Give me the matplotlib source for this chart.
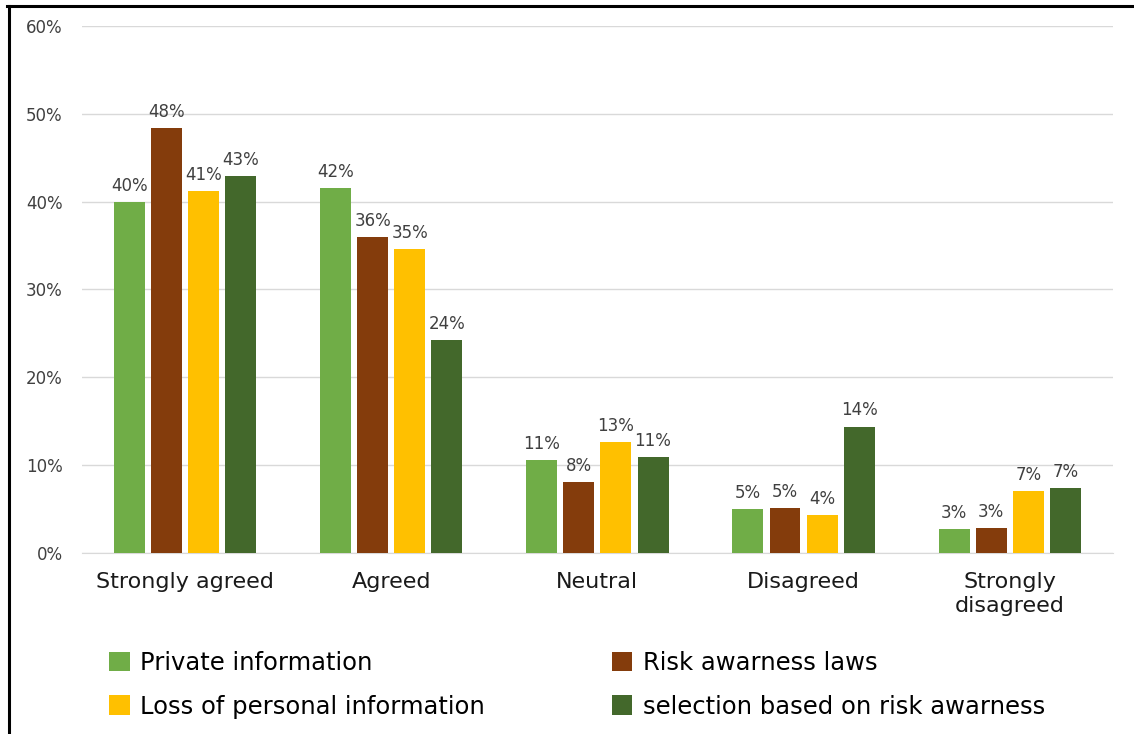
import matplotlib.pyplot as plt
import numpy as np
from matplotlib.lines import Line2D

categories = ["Strongly agreed", "Agreed", "Neutral", "Disagreed", "Strongly\ndisagreed"]
series_names = [
    "Private information",
    "Risk awarness laws",
    "Loss of personal information",
    "selection based on risk awarness",
]
private_info = [40.0, 41.6, 10.6, 5.0, 2.7]
risk_laws = [48.4, 36.0, 8.1, 5.1, 2.8]
loss_personal = [41.2, 34.6, 12.6, 4.3, 7.1]
selection_risk = [42.9, 24.3, 10.9, 14.4, 7.4]

colors = ["#70AD47", "#843C0C", "#FFC000", "#43682B"]
text_color = "#404040"

plt.rcParams["font.family"] = ["DejaVu Sans"]

fig = plt.figure(figsize=(11.34, 7.34), dpi=100)
ax = fig.add_axes([0.0723, 0.2466, 0.909, 0.718])

x = np.arange(len(categories))
width = 0.15
step = 0.18
offsets = (np.arange(4) - 1.5) * step

handles = []
for i, (name, vals) in enumerate(zip(series_names, [private_info, risk_laws, loss_personal, selection_risk])):
    vals = np.array(vals) / 100
    bars = ax.bar(x + offsets[i], vals, width, color=colors[i], label=name, zorder=3)
    handles.append(bars)
    for xb, v in zip(x + offsets[i], vals):
        ax.text(xb, v + 0.008, f"{v * 100:.0f}%", ha="center", va="bottom",
                fontsize=12, color=text_color)

ax.set_xlim(-0.5, len(categories) - 0.5)
ax.set_ylim(0, 0.6)
ax.set_yticks(np.arange(0, 0.61, 0.1))
ax.set_yticklabels([f"{t}%" for t in range(0, 61, 10)], fontsize=12, color=text_color)
ax.set_xticks(x)
ax.set_xticklabels(categories, fontsize=16, color="#1a1a1a", linespacing=1.25)
ax.tick_params(axis="both", length=0)
ax.tick_params(axis="x", pad=14)
ax.tick_params(axis="y", pad=14)
ax.grid(axis="y", color="#d9d9d9", linewidth=1, zorder=0)
for side in ["top", "right", "left"]:
    ax.spines[side].set_visible(False)
ax.spines["bottom"].set_color("#d9d9d9")

# two-column legend, filled column by column
order = [0, 2, 1, 3]
fig.legend([handles[i] for i in order], [series_names[i] for i in order],
           loc="upper left", bbox_to_anchor=(0.096, 0.113), ncol=2, frameon=False,
           fontsize=17.5, handlelength=0.85, handleheight=0.85, handletextpad=0.45,
           labelspacing=0.8, columnspacing=5.2, borderpad=0, borderaxespad=0)

# outer frame (left and top edges)
fig.add_artist(Line2D([0.0075, 0.0075], [0, 0.992], color="black", linewidth=2.2,
                      transform=fig.transFigure))
fig.add_artist(Line2D([0.0065, 1], [0.9915, 0.9915], color="black", linewidth=2.2,
                      transform=fig.transFigure))

fig.savefig("out.png", dpi=100)
